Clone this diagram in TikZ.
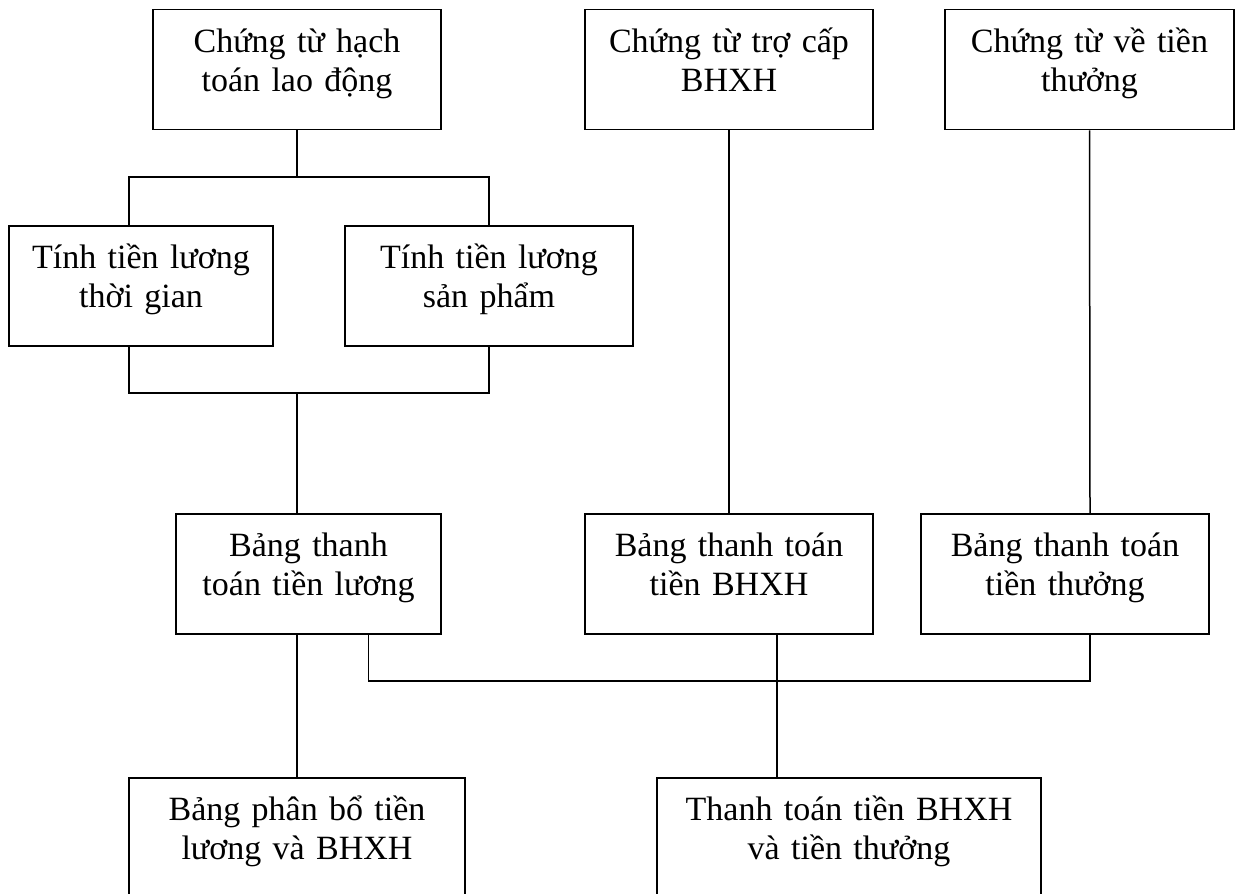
\documentclass[tikz,border=0pt]{standalone}
\usepackage{fontspec}
\setmainfont{Liberation Serif}
\begin{document}
\begin{tikzpicture}[x=0.5pt, y=-0.5pt, line width=0.75pt,
  box/.style={draw, anchor=north, inner xsep=0pt, inner ysep=0pt, align=center,
    text height=21.5pt, text depth=38.5pt, font=\fontsize{17}{19.2}\selectfont}]
\useasboundingbox (0,0) rectangle (1240,893);
%first row: chung tu
\node[box, text width=144pt] (hachtoan) at (297,9) {Chứng từ hạch\\toán lao động};
\node[box, text width=144pt] (trocap) at (729,9) {Chứng từ trợ cấp\\BHXH};
\node[box, text width=144.5pt] (tienthuong) at (1089.5,9) {Chứng từ về tiền\\thưởng};
%second row: tinh tien luong
\node[box, text width=132pt] (thoigian) at (141,225) {Tính tiền lương\\thời gian};
\node[box, text width=144pt] (sanpham) at (489,225) {Tính tiền lương\\sản phẩm};
%third row: bang thanh toan
\node[box, text width=132.5pt] (bangluong) at (308.5,513) {Bảng thanh\\toán tiền lương};
\node[box, text width=144pt] (bangbhxh) at (729,513) {Bảng thanh toán\\tiền BHXH};
\node[box, text width=144pt] (bangthuong) at (1065,513) {Bảng thanh toán\\tiền thưởng};
%last row
\node[box, text width=168pt] (phanbo) at (297,777) {Bảng phân bổ tiền\\lương và BHXH};
\node[box, text width=192pt] (thanhtoan) at (849,777) {Thanh toán tiền BHXH\\và tiền thưởng};
%branch points
\coordinate (split) at (297,177);
\coordinate (join) at (297,393);
\coordinate (bus) at (777,681);
%draw connectors
\draw (hachtoan.south) -- (split);
\draw ([xshift=-6pt]thoigian.north) |- (split) -| (sanpham.north);
\draw ([xshift=-6pt]thoigian.south) |- (join) -| (sanpham.south);
\draw (join) -- ([xshift=-5.75pt]bangluong.north);
\draw (trocap.south) -- (bangbhxh.north);
\draw (tienthuong.south) -- ([xshift=12.5pt]bangthuong.north);
\draw ([xshift=-5.75pt]bangluong.south) -- (phanbo.north);
\draw ([xshift=30pt]bangluong.south) |- (bus) -| ([xshift=12.5pt]bangthuong.south);
\draw ([xshift=24pt]bangbhxh.south) -- ([xshift=-36pt]thanhtoan.north);
\end{tikzpicture}
\end{document}
